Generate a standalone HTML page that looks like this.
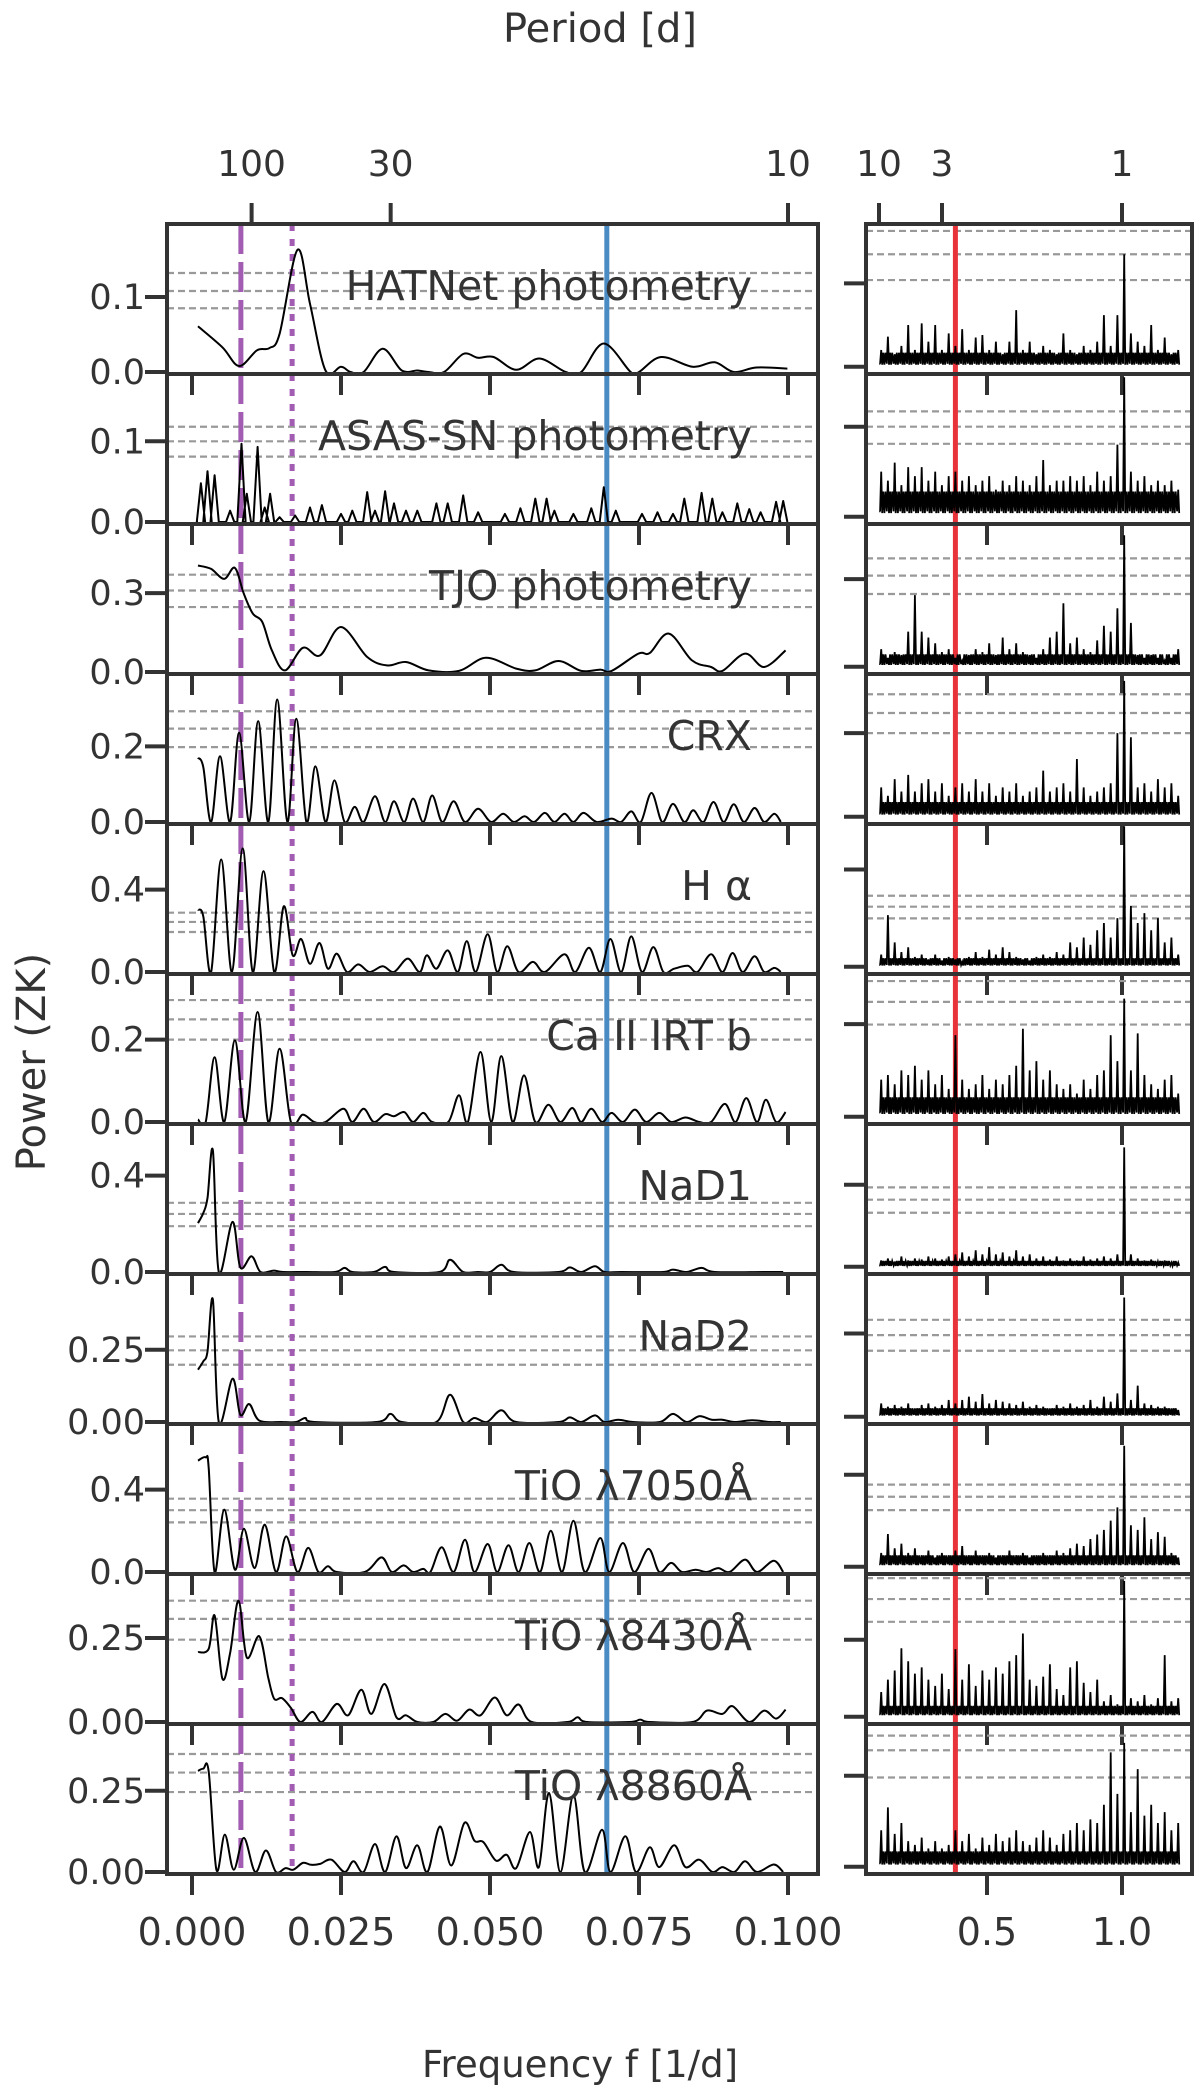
<!DOCTYPE html>
<html><head><meta charset="utf-8"><title>Periodograms</title>
<style>
html,body{margin:0;padding:0;background:#fff;}
svg{display:block;}
text{font-family:"DejaVu Sans","Liberation Sans",sans-serif;fill:#333;}
</style></head>
<body>
<svg id="chart" width="1200" height="2095" viewBox="0 0 1200 2095" xmlns="http://www.w3.org/2000/svg">
<text x="600" y="42" font-size="40" text-anchor="middle">Period [d]</text>
<text x="580" y="2077" font-size="37" text-anchor="middle">Frequency f [1/d]</text>
<text x="0" y="0" font-size="40" text-anchor="middle" transform="translate(45,1062) rotate(-90)">Power (ZK)</text>
</svg>
<script>
// ---------- DATA ----------
const panelNames = ["HATNet photometry","ASAS-SN photometry","TJO photometry","CRX","H α","Ca II IRT b","NaD1","NaD2","TiO λ7050Å","TiO λ8430Å","TiO λ8860Å"];
const yTickVals = [0.1,0.1,0.3,0.2,0.4,0.2,0.4,0.25,0.4,0.25,0.25];
const yTickLabels = ["0.1","0.1","0.3","0.2","0.4","0.2","0.4","0.25","0.4","0.25","0.25"];
const yZeroLabels = ["0.0","0.0","0.0","0.0","0.0","0.0","0.0","0.00","0.0","0.00","0.00"];
const xTickVals = [0,0.025,0.05,0.075,0.1];
const xTickLabels = ["0.000","0.025","0.050","0.075","0.100"];
const xTickValsR = [0.5,1.0];
const xTickLabelsR = ["0.5","1.0"];
const periodTicksL = [100,30,10];
const periodTicksR = [10,3,1];
const rotFreqLong = 0.0082;
const rotFreqHalf = 0.0168;
const blueFreq = 0.0696;
const redFreq = 0.383;

const fapL = [[0.132,0.108,0.085],[0.118,0.1,0.081],[0.37,0.31,0.247],[0.293,0.247,0.198],[0.288,0.243,0.194],[0.296,0.249,0.2],[0.287,0.241,0.19],[0.296,0.248,0.198],[0.356,0.3,0.241],[0.361,0.307,0.245],[0.363,0.306,0.246]];
const fapR = [[0.163,0.135,0.104],[0.117,0.1,0.081],[0.371,0.312,0.249],[0.293,0.248,0.2],[0.292,0.247,0.199],[0.293,0.248,0.199],[0.387,0.327,0.263],[0.291,0.245,0.198],[0.357,0.304,0.246],[0.45,0.382,0.308],[0.36,0.32,0.245]];

const hatF = [0.0010,0.0051,0.0079,0.0109,0.0130,0.0147,0.0177,0.0198,0.0224,0.0250,0.0266,0.0288,0.0320,0.0352,0.0378,0.0397,0.0423,0.0455,0.0480,0.0506,0.0544,0.0583,0.0627,0.0653,0.0691,0.0736,0.0750,0.0787,0.0840,0.0877,0.0909,0.0947,0.0999];
const hatP = [0.061,0.033,0.008,0.029,0.032,0.051,0.163,0.091,0.002,0.007,0,0,0.031,0.002,0.002,0,0,0.024,0.019,0.020,0.003,0.018,0,0,0.038,0,0,0.020,0.007,0.013,0,0.006,0.0045];

const asasF = [0.0015,0.0026,0.0038,0.0064,0.0083,0.0092,0.0110,0.0122,0.0131,0.0147,0.0173,0.0198,0.0218,0.0250,0.0269,0.0294,0.0307,0.0324,0.0339,0.0359,0.0378,0.0410,0.0429,0.0455,0.0480,0.0525,0.0551,0.0576,0.0595,0.0608,0.0640,0.0670,0.0691,0.0711,0.0755,0.0781,0.0807,0.0826,0.0855,0.0873,0.0890,0.0915,0.0935,0.0954,0.0980,0.0992];
const asasP = [0.048,0.063,0.058,0.014,0.097,0.035,0.093,0.018,0.035,0.006,0.008,0.018,0.021,0.010,0.014,0.037,0.014,0.038,0.023,0.014,0.014,0.023,0.023,0.033,0.012,0.010,0.017,0.029,0.029,0.014,0.010,0.017,0.043,0.014,0.010,0.012,0.010,0.029,0.036,0.029,0.012,0.023,0.016,0.012,0.025,0.026];

const tjoF = [0.0010,0.0032,0.0054,0.0072,0.0087,0.0102,0.0118,0.0134,0.0156,0.0186,0.0215,0.0250,0.0294,0.0327,0.0359,0.0397,0.0448,0.0493,0.0544,0.0576,0.0615,0.0653,0.0685,0.0704,0.0749,0.0768,0.0800,0.0839,0.0871,0.0890,0.0928,0.0960,0.0996];
const tjoP = [0.405,0.392,0.354,0.396,0.297,0.222,0.19,0.082,0.006,0.092,0.063,0.171,0.057,0.025,0.038,0.006,0.004,0.054,0.013,0.006,0.042,0.004,0.009,0.004,0.07,0.072,0.146,0.044,0.019,0.004,0.07,0.019,0.082];

const crxF = [0.0010,0.0019,0.0032,0.0047,0.0064,0.0079,0.0096,0.0111,0.0128,0.0143,0.0160,0.0175,0.0192,0.0207,0.0224,0.0239,0.0256,0.0273,0.0288,0.0307,0.0324,0.0339,0.0356,0.0371,0.0388,0.0403,0.0420,0.0439,0.0458,0.0480,0.0502,0.0522,0.0540,0.0558,0.0574,0.0592,0.0608,0.0625,0.0640,0.0657,0.0679,0.0704,0.0720,0.0737,0.0753,0.0771,0.0789,0.0807,0.0826,0.0841,0.0858,0.0875,0.0892,0.0909,0.0926,0.0944,0.0960,0.0977,0.0988];
const crxP = [0.17,0.145,0,0.174,0,0.236,0,0.267,0,0.324,0,0.273,0,0.147,0,0.11,0,0.04,0,0.068,0,0.055,0,0.062,0,0.07,0,0.055,0,0.035,0,0.022,0,0.015,0,0.024,0,0.022,0,0.024,0,0.009,0,0.028,0,0.077,0,0.048,0,0.031,0,0.053,0,0.047,0,0.037,0,0.022,0];

const haF = [0.0010,0.0019,0.0032,0.0049,0.0067,0.0085,0.0102,0.0120,0.0138,0.0154,0.0169,0.0183,0.0198,0.0214,0.0228,0.0243,0.0260,0.0279,0.0298,0.0320,0.0339,0.0362,0.0382,0.0394,0.0410,0.0429,0.0446,0.0461,0.0476,0.0496,0.0512,0.0529,0.0548,0.0572,0.0592,0.0625,0.0643,0.0666,0.0685,0.0702,0.0720,0.0737,0.0755,0.0774,0.0791,0.0809,0.0832,0.0848,0.0871,0.0890,0.0907,0.0924,0.0944,0.0960,0.0977,0.0988];
const haP = [0.303,0.27,0,0.546,0,0.6,0,0.49,0,0.319,0.081,0.16,0.04,0.141,0.016,0.089,0,0.037,0,0.028,0,0.065,0,0.081,0.016,0.105,0,0.15,0,0.183,0,0.125,0,0.049,0,0.086,0,0.118,0,0.16,0,0.173,0,0.121,0,0.016,0.03,0,0.086,0,0.092,0,0.076,0,0.02,0];

const caF = [0.0010,0.0023,0.0038,0.0054,0.0072,0.0090,0.0110,0.0128,0.0147,0.0166,0.0186,0.0205,0.0224,0.0254,0.0269,0.0288,0.0305,0.0324,0.0339,0.0356,0.0371,0.0388,0.0403,0.0430,0.0448,0.0463,0.0484,0.0502,0.0519,0.0538,0.0557,0.0576,0.0598,0.0618,0.0638,0.0653,0.0670,0.0688,0.0704,0.0723,0.0743,0.0762,0.0784,0.0804,0.0828,0.0851,0.0871,0.0894,0.0912,0.0930,0.0948,0.0963,0.0980,0.0996];
const caP = [0.006,0,0.157,0,0.198,0,0.267,0,0.178,0,0.018,0,0,0.032,0,0.032,0,0.019,0.014,0.024,0,0.022,0,0,0.065,0,0.17,0,0.16,0,0.113,0,0.042,0,0.034,0,0.032,0,0.022,0,0.03,0,0.022,0,0.011,0,0,0.044,0,0.058,0,0.054,0,0.024];

const na1F = [0.0010,0.0019,0.0026,0.0035,0.0045,0.0068,0.0081,0.0100,0.0115,0.0137,0.0153,0.0192,0.0240,0.0256,0.0269,0.0305,0.0324,0.0339,0.0415,0.0433,0.0455,0.0480,0.0500,0.0519,0.0540,0.0615,0.0634,0.0653,0.0676,0.0692,0.0720,0.0790,0.0807,0.0830,0.0855,0.0877,0.0960,0.0992];
const na1P = [0.203,0.245,0.307,0.504,0,0.208,0.019,0.065,0,0.006,0,0,0,0.017,0,0,0.021,0,0,0.051,0,0,0,0.03,0,0,0.019,0,0.024,0,0,0,0.01,0,0.017,0,0,0];

const na2F = [0.0010,0.0019,0.0026,0.0035,0.0045,0.0068,0.0081,0.0096,0.0113,0.0150,0.0175,0.0190,0.0205,0.0310,0.0333,0.0352,0.0410,0.0433,0.0455,0.0474,0.0495,0.0519,0.0544,0.0615,0.0634,0.0653,0.0676,0.0692,0.0715,0.0740,0.0785,0.0807,0.0830,0.0851,0.0872,0.0890,0.0910,0.0940,0.0970,0.0988];
const na2P = [0.181,0.21,0.244,0.423,0,0.15,0.025,0.062,0.005,0,0,0.014,0,0,0.028,0,0,0.094,0,0.014,0,0.041,0,0,0.016,0,0.023,0,0.008,0,0,0.028,0,0.02,0.008,0.008,0,0.006,0,0];

const t7F = [0.0010,0.0023,0.0028,0.0038,0.0054,0.0072,0.0087,0.0105,0.0122,0.0141,0.0158,0.0177,0.0195,0.0212,0.0228,0.0243,0.0290,0.0318,0.0335,0.0355,0.0371,0.0388,0.0400,0.0419,0.0439,0.0458,0.0474,0.0496,0.0512,0.0531,0.0548,0.0566,0.0584,0.0602,0.0621,0.0640,0.0659,0.0685,0.0700,0.0723,0.0742,0.0766,0.0784,0.0804,0.0822,0.0845,0.0864,0.0883,0.0902,0.0928,0.0948,0.0976,0.0992];
const t7P = [0.541,0.557,0.505,0,0.303,0.011,0.21,0.019,0.23,0,0.173,0,0.117,0,0.028,0,0,0.071,0,0.032,0,0.015,0,0.12,0,0.157,0,0.136,0,0.13,0,0.141,0,0.2,0,0.249,0,0.165,0,0.141,0,0.112,0,0.044,0,0.011,0,0.019,0,0.06,0,0.055,0];

const t84F = [0.0010,0.0028,0.0038,0.0051,0.0064,0.0078,0.0092,0.0113,0.0128,0.0138,0.0151,0.0166,0.0182,0.0202,0.0218,0.0243,0.0262,0.0284,0.0301,0.0323,0.0343,0.0359,0.0378,0.0405,0.0425,0.0445,0.0465,0.0484,0.0508,0.0528,0.0548,0.0570,0.0630,0.0647,0.0663,0.0735,0.0752,0.0768,0.0840,0.0864,0.0890,0.0907,0.0935,0.0960,0.0980,0.0996];
const t84P = [0.208,0.218,0.317,0.129,0.205,0.361,0.192,0.255,0.131,0.069,0.071,0.042,0,0.03,0,0.054,0.02,0.096,0.024,0.113,0.014,0.02,0,0,0.024,0.004,0.037,0.02,0.073,0.02,0.052,0,0,0.014,0,0,0.007,0,0,0.034,0.024,0.047,0,0.034,0.01,0.037];

const t88F = [0.0010,0.0019,0.0028,0.0041,0.0055,0.0070,0.0087,0.0106,0.0124,0.0141,0.0157,0.0170,0.0186,0.0200,0.0215,0.0234,0.0256,0.0271,0.0288,0.0307,0.0324,0.0343,0.0359,0.0378,0.0395,0.0416,0.0435,0.0457,0.0474,0.0489,0.0510,0.0528,0.0544,0.0567,0.0582,0.0599,0.0618,0.0640,0.0659,0.0688,0.0702,0.0727,0.0745,0.0768,0.0784,0.0809,0.0828,0.0851,0.0873,0.0890,0.0910,0.0928,0.0948,0.0976,0.0992];
const t88P = [0.311,0.318,0.309,0.007,0.115,0.007,0.105,0,0.066,0,0.012,0.007,0.028,0.022,0.025,0.038,0,0.033,0,0.086,0,0.11,0.012,0.082,0,0.14,0.02,0.151,0.096,0.092,0.035,0.053,0.012,0.123,0.015,0.243,0,0.236,0,0.13,0,0.11,0,0.076,0.015,0.082,0.015,0.038,0,0.015,0,0.033,0,0.023,0];

const rightFreq = [0.100,0.125,0.150,0.175,0.200,0.225,0.250,0.275,0.300,0.325,0.350,0.375,0.400,0.425,0.450,0.475,0.500,0.525,0.550,0.575,0.600,0.625,0.650,0.675,0.700,0.725,0.750,0.775,0.800,0.825,0.850,0.875,0.900,0.925,0.950,0.975,1.000,1.025,1.050,1.075,1.100,1.125,1.150,1.175,1.200];
const hatR = [0.02,0.036,0.015,0.025,0.05,0.02,0.052,0.03,0.05,0.02,0.04,0.025,0.045,0.02,0.035,0.038,0.02,0.03,0.015,0.03,0.068,0.02,0.03,0.015,0.025,0.02,0.015,0.04,0.02,0.015,0.025,0.02,0.03,0.062,0.025,0.062,0.135,0.04,0.03,0.025,0.05,0.02,0.035,0.015,0.02];
const asasR = [0.05,0.04,0.06,0.035,0.055,0.045,0.055,0.04,0.05,0.035,0.045,0.05,0.04,0.045,0.035,0.04,0.045,0.03,0.04,0.035,0.045,0.04,0.035,0.045,0.063,0.035,0.04,0.04,0.045,0.04,0.045,0.035,0.05,0.04,0.045,0.08,0.155,0.05,0.04,0.045,0.035,0.04,0.035,0.04,0.03];
const tjoR = [0.06,0.03,0.05,0.04,0.12,0.245,0.12,0.1,0.08,0.05,0.06,0.03,0.02,0.04,0.06,0.05,0.08,0.04,0.1,0.06,0.08,0.05,0.04,0.03,0.06,0.1,0.12,0.217,0.08,0.1,0.06,0.05,0.09,0.14,0.12,0.2,0.45,0.15,0.04,0.03,0.04,0.03,0.02,0.03,0.06];
const crxR = [0.07,0.05,0.09,0.06,0.1,0.06,0.08,0.09,0.06,0.08,0.05,0.07,0.08,0.06,0.09,0.06,0.08,0.05,0.07,0.06,0.08,0.05,0.06,0.07,0.11,0.06,0.07,0.08,0.06,0.138,0.07,0.05,0.06,0.07,0.08,0.2,0.325,0.19,0.07,0.08,0.06,0.09,0.07,0.08,0.05];
const haR = [0.05,0.212,0.1,0.06,0.08,0.04,0.05,0.03,0.05,0.025,0.04,0.03,0.02,0.04,0.06,0.04,0.07,0.05,0.08,0.06,0.04,0.03,0.025,0.04,0.05,0.04,0.06,0.05,0.1,0.08,0.12,0.09,0.15,0.18,0.12,0.2,0.578,0.25,0.18,0.22,0.15,0.2,0.1,0.12,0.05];
const caR = [0.08,0.09,0.07,0.1,0.09,0.11,0.08,0.1,0.07,0.09,0.06,0.176,0.08,0.06,0.07,0.09,0.06,0.08,0.07,0.09,0.11,0.19,0.1,0.12,0.08,0.1,0.07,0.06,0.07,0.05,0.08,0.06,0.09,0.1,0.176,0.12,0.255,0.1,0.18,0.09,0.07,0.06,0.08,0.09,0.05];
const na1R = [0.03,0.04,0.025,0.05,0.03,0.04,0.035,0.05,0.04,0.035,0.05,0.06,0.07,0.05,0.08,0.06,0.095,0.06,0.07,0.05,0.08,0.05,0.06,0.04,0.05,0.035,0.05,0.03,0.04,0.03,0.05,0.035,0.04,0.05,0.04,0.06,0.582,0.06,0.04,0.03,0.035,0.025,0.03,0.02,0.02];
const na2R = [0.04,0.03,0.035,0.03,0.04,0.025,0.035,0.04,0.03,0.035,0.05,0.04,0.05,0.06,0.045,0.068,0.04,0.05,0.045,0.04,0.035,0.045,0.03,0.035,0.03,0.025,0.035,0.03,0.04,0.03,0.035,0.05,0.03,0.06,0.045,0.07,0.358,0.05,0.093,0.04,0.035,0.03,0.03,0.025,0.02];
const t7R = [0.06,0.142,0.08,0.1,0.06,0.08,0.05,0.07,0.04,0.06,0.05,0.07,0.09,0.05,0.07,0.05,0.06,0.04,0.05,0.07,0.05,0.06,0.04,0.05,0.06,0.05,0.07,0.06,0.08,0.1,0.09,0.12,0.14,0.16,0.2,0.258,0.526,0.18,0.16,0.215,0.12,0.15,0.13,0.06,0.04];
const t84R = [0.08,0.12,0.15,0.222,0.18,0.14,0.16,0.12,0.1,0.14,0.09,0.219,0.12,0.17,0.1,0.15,0.12,0.16,0.14,0.18,0.2,0.27,0.12,0.1,0.13,0.17,0.09,0.07,0.16,0.18,0.11,0.08,0.12,0.05,0.07,0.04,0.441,0.06,0.05,0.07,0.04,0.06,0.2,0.05,0.06];
const t88R = [0.1,0.163,0.09,0.12,0.07,0.06,0.08,0.05,0.07,0.05,0.06,0.1,0.07,0.09,0.05,0.08,0.06,0.09,0.07,0.08,0.1,0.07,0.06,0.08,0.1,0.08,0.06,0.09,0.1,0.12,0.1,0.13,0.12,0.17,0.314,0.2,0.34,0.15,0.268,0.14,0.17,0.12,0.15,0.1,0.12];
const rightFloor = [0.012,0.02,0.03,0.025,0.025,0.03,0.02,0.018,0.035,0.025,0.03];

// ---------- LAYOUT ----------
const leftSeriesF = [hatF,asasF,tjoF,crxF,haF,caF,na1F,na2F,t7F,t84F,t88F];
const leftSeriesP = [hatP,asasP,tjoP,crxP,haP,caP,na1P,na2P,t7P,t84P,t88P];
const rightSeries = [hatR,asasR,tjoR,crxR,haR,caR,na1R,na2R,t7R,t84R,t88R];
const scaleL = [750,807,263,378,206,412,241,289,206,336,325];
const scaleR = [833,900,292,418,243,463,205,333,230,308,364];
const PANEL_TOP = 224, PANEL_H = 150;
const LX0 = 167, LX1 = 818, RX0 = 866, RX1 = 1192;
const xL = f => 192 + f * 5960;
const xR = f => 852 + f * 270;
const NS = "http://www.w3.org/2000/svg";
const svg = document.getElementById('chart');
function mk(tag, attrs, parent) {
  const e = document.createElementNS(NS, tag);
  for (const k in attrs) e.setAttribute(k, attrs[k]);
  (parent || svg).appendChild(e);
  return e;
}
function smoothPath(pts) {
  let d = "M" + pts[0][0].toFixed(1) + "," + pts[0][1].toFixed(1);
  for (let i = 0; i < pts.length - 1; i++) {
    const p0 = pts[Math.max(0, i - 1)], p1 = pts[i], p2 = pts[i + 1], p3 = pts[Math.min(pts.length - 1, i + 2)];
    const c1x = p1[0] + (p2[0] - p0[0]) / 6, c1y = p1[1] + (p2[1] - p0[1]) / 6;
    const c2x = p2[0] - (p3[0] - p1[0]) / 6, c2y = p2[1] - (p3[1] - p1[1]) / 6;
    d += "C" + c1x.toFixed(1) + "," + c1y.toFixed(1) + " " + c2x.toFixed(1) + "," + c2y.toFixed(1) + " " + p2[0].toFixed(1) + "," + p2[1].toFixed(1);
  }
  return d;
}
const defs = mk('defs', {});
for (let i = 0; i < 11; i++) {
  const top = PANEL_TOP + i * PANEL_H;
  const cpL = mk('clipPath', {id: 'cl' + i}, defs);
  mk('rect', {x: LX0, y: top, width: LX1 - LX0, height: PANEL_H}, cpL);
  const cpR = mk('clipPath', {id: 'cr' + i}, defs);
  mk('rect', {x: RX0, y: top, width: RX1 - RX0, height: PANEL_H}, cpR);
}

for (let i = 0; i < 11; i++) {
  const top = PANEL_TOP + i * PANEL_H, bot = top + PANEL_H;
  const zL = top + 148, zR = top + 142.7;
  const yL = p => zL - p * scaleL[i];
  const yR = p => zR - p * scaleR[i];
  const gL = mk('g', {'clip-path': 'url(#cl' + i + ')'});
  
  
  const gR = mk('g', {'clip-path': 'url(#cr' + i + ')'});
  
  

  fapL[i].forEach(v => {
    const l = mk('line', {x1: LX0, x2: LX1, y1: yL(v), y2: yL(v), stroke: '#999', 'stroke-width': 2.2, 'stroke-dasharray': '7 4'}, gL);
    
    
  });
  fapR[i].forEach(v => {
    const l = mk('line', {x1: RX0, x2: RX1, y1: yR(v), y2: yR(v), stroke: '#999', 'stroke-width': 2.2, 'stroke-dasharray': '7 4'}, gR);
    
    
  });

  const v1 = mk('line', {x1: xL(rotFreqLong), x2: xL(rotFreqLong), y1: top, y2: bot, stroke: '#a25db3', 'stroke-width': 5, 'stroke-dasharray': '30 8'}, gL);
  
  
  const v2 = mk('line', {x1: xL(rotFreqHalf), x2: xL(rotFreqHalf), y1: top, y2: bot, stroke: '#a25db3', 'stroke-width': 5, 'stroke-dasharray': '7 8'}, gL);
  
  
  const v3 = mk('line', {x1: xL(blueFreq), x2: xL(blueFreq), y1: top, y2: bot, stroke: '#4a8bc4', 'stroke-width': 5}, gL);
  
  
  const v4 = mk('line', {x1: xR(redFreq), x2: xR(redFreq), y1: top, y2: bot, stroke: '#e8333a', 'stroke-width': 5}, gR);
  
  

  const F = leftSeriesF[i], P = leftSeriesP[i];
  const n = Math.min(F.length, P.length);
  let d;
  if (i === 1) {
    d = "M" + xL(0.001).toFixed(1) + "," + yL(0).toFixed(1);
    for (let k = 0; k < n; k++) {
      d += "L" + xL(F[k] - 0.0007).toFixed(1) + "," + yL(0).toFixed(1);
      d += "L" + xL(F[k]).toFixed(1) + "," + yL(P[k]).toFixed(1);
      d += "L" + xL(F[k] + 0.0007).toFixed(1) + "," + yL(0).toFixed(1);
    }
  } else {
    const pts = [];
    for (let k = 0; k < n; k++) pts.push([xL(F[k]), yL(P[k])]);
    d = smoothPath(pts);
  }
  const pl = mk('path', {d: d, fill: 'none', stroke: '#000', 'stroke-width': 2, 'stroke-linejoin': 'round'}, gL);
  
  

  // right series: spikes from data plus a fine noise texture at floor level
  const R = rightSeries[i], fl = rightFloor[i];
  let dr = "M" + xR(0.105).toFixed(1) + "," + yR(fl * 0.3).toFixed(1);
  for (let k = 0; k < R.length; k++) {
    const f = rightFreq[k] + 0.008;
    dr += "L" + xR(f - 0.004).toFixed(1) + "," + yR(fl * 0.3).toFixed(1);
    dr += "L" + xR(f).toFixed(1) + "," + yR(R[k]).toFixed(1);
    dr += "L" + xR(f + 0.004).toFixed(1) + "," + yR(fl * 0.2).toFixed(1);
    if (k < R.length - 1) {
      for (let s = 1; s <= 3; s++) {
        const fs = f + 0.004 + s * 0.004;
        dr += "L" + xR(fs).toFixed(1) + "," + yR(s % 2 ? fl * 1.4 : fl * 0.2).toFixed(1);
      }
    }
  }
  const pr = mk('path', {d: dr, fill: 'none', stroke: '#000', 'stroke-width': 1.8, 'stroke-linejoin': 'miter'}, gR);
  
  

  const frL = mk('rect', {x: LX0, y: top, width: LX1 - LX0, height: PANEL_H, fill: 'none', stroke: '#333', 'stroke-width': 4});
  
  
  const frR = mk('rect', {x: RX0, y: top, width: RX1 - RX0, height: PANEL_H, fill: 'none', stroke: '#333', 'stroke-width': 4});
  
  

  [[0, yZeroLabels[i]], [yTickVals[i], yTickLabels[i]]].forEach(t => {
    const y = yL(t[0]);
    const tk = mk('line', {x1: LX0 - 22, x2: LX0, y1: y, y2: y, stroke: '#333', 'stroke-width': 4});
    
    
    const tx = mk('text', {x: 145, y: y + 12, 'font-size': 35, 'text-anchor': 'end'});
    tx.textContent = t[1];
    
    
  });
  [0, yTickVals[i]].forEach(v => {
    const y = yR(v);
    const tk = mk('line', {x1: RX0 - 22, x2: RX0, y1: y, y2: y, stroke: '#333', 'stroke-width': 4});
    
    
  });
  xTickVals.forEach(v => {
    const tk = mk('line', {x1: xL(v), x2: xL(v), y1: bot, y2: bot + 21, stroke: '#333', 'stroke-width': 4});
    
    
  });
  xTickValsR.forEach(v => {
    const tk = mk('line', {x1: xR(v), x2: xR(v), y1: bot, y2: bot + 21, stroke: '#333', 'stroke-width': 4});
    
    
  });

  const lab = mk('text', {x: 752, y: top + 76, 'font-size': 41, 'text-anchor': 'end'});
  lab.textContent = panelNames[i];
  
  
}

const lastBot = PANEL_TOP + 11 * PANEL_H;
xTickVals.forEach((v, k) => {
  const t = mk('text', {x: xL(v), y: 1945, 'font-size': 38, 'text-anchor': 'middle'});
  t.textContent = xTickLabels[k];
  
  
});
xTickValsR.forEach((v, k) => {
  const t = mk('text', {x: xR(v), y: 1945, 'font-size': 38, 'text-anchor': 'middle'});
  t.textContent = xTickLabelsR[k];
  
  
});
periodTicksL.forEach(p => {
  const x = xL(1 / p);
  const tk = mk('line', {x1: x, x2: x, y1: PANEL_TOP - 21, y2: PANEL_TOP, stroke: '#333', 'stroke-width': 4});
  
  
  const t = mk('text', {x: x, y: 176, 'font-size': 36, 'text-anchor': 'middle'});
  t.textContent = String(p);
  
  
});
periodTicksR.forEach(p => {
  const x = xR(1 / p);
  const tk = mk('line', {x1: x, x2: x, y1: PANEL_TOP - 21, y2: PANEL_TOP, stroke: '#333', 'stroke-width': 4});
  
  
  const t = mk('text', {x: x, y: 176, 'font-size': 36, 'text-anchor': 'middle'});
  t.textContent = String(p);
  
  
});
</script>
</body></html>
